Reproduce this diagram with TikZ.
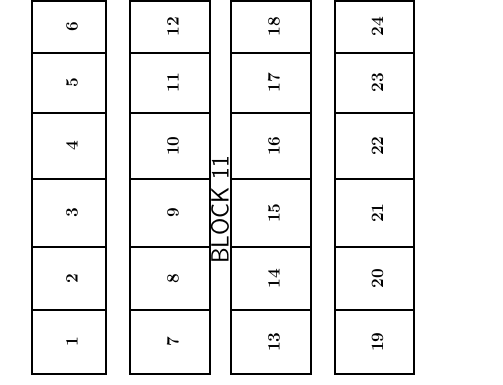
\documentclass[tikz,border=0pt]{standalone}
\usepackage{tikz}

\begin{document}
\begin{tikzpicture}[x=1pt, y=-1pt,
  lotline/.style={draw, line width=1.2pt},
  lotnum/.style={rotate=90, font=\LARGE\bfseries},
  blocklabel/.style={rotate=90, font=\sffamily\Huge}]
\useasboundingbox (0,0) rectangle (503,385);
\foreach \c/\xl/\xr in {0/32/106, 1/130/210, 2/231/311, 3/335/414}{
  \foreach \r/\yt/\yb in {0/310/374, 1/247/310, 2/179/247, 3/113/179, 4/53/113, 5/1/53}{
    \pgfmathtruncatemacro{\n}{6*\c+\r+1}
    \draw[lotline] (\xl,\yt) rectangle (\xr,\yb);
    \node[lotnum] (lot\n) at ({(\xl+\xr)/2+3},{(\yt+\yb)/2}) {\n};
  }
}
\node[blocklabel] (block) at (220,210) {BLOCK 11};
\end{tikzpicture}
\end{document}
